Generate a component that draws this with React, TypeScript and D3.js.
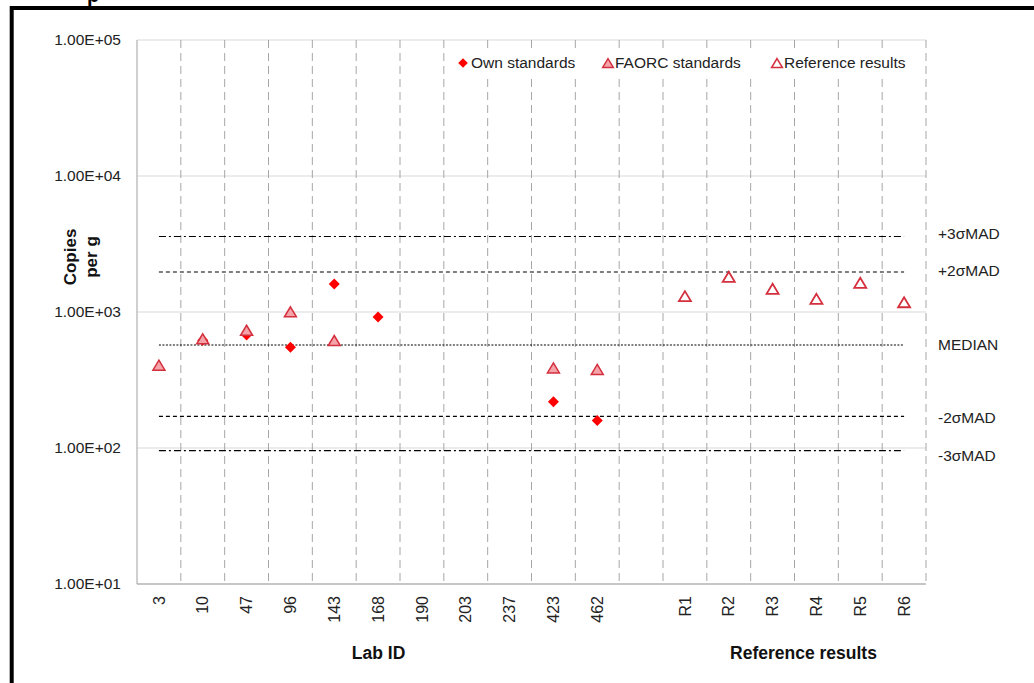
import React from "react";
import * as d3 from "d3";

// Category axis: laboratories, a spacer, then reference laboratories
const labIds = ["3", "10", "47", "96", "143", "168", "190", "203", "237", "423", "462"];
const refIds = ["R1", "R2", "R3", "R4", "R5", "R6"];
const spacer = "__gap__";
const categories = [...labIds, spacer, ...refIds];

// Results (copies per g)
const ownStandards: [string, number][] = [
  ["10", 620], ["47", 678], ["96", 550], ["143", 1607], ["168", 918], ["423", 219], ["462", 159],
];
const faorcStandards: [string, number][] = [
  ["3", 403], ["10", 630], ["47", 728], ["96", 995], ["143", 612], ["423", 385], ["462", 375],
];
const referenceResults: [string, number][] = [
  ["R1", 1297], ["R2", 1799], ["R3", 1469], ["R4", 1239], ["R5", 1626], ["R6", 1170],
];

// Consensus limits
const limitLabels = ["+3σMAD", "+2σMAD", "MEDIAN", "-2σMAD", "-3σMAD"];
const limitValues = [3590, 1968, 572, 171, 95.5];

const yTickValues = [10, 100, 1000, 10000, 100000];

const FONT = "Arial, 'Liberation Sans', sans-serif";
const limitDash = ["7,3,2,3", "4,3", "2,1.5", "4,3", "7,3,2,3"];
const limitLabelShift = [-3, -1, 0, 1, 5];

const fmtSci = (v: number) => {
  const e = Math.floor(Math.log10(v));
  const m = v / Math.pow(10, e);
  const sign = e >= 0 ? "+" : "-";
  return `${m.toFixed(2)}E${sign}${String(Math.abs(e)).padStart(2, "0")}`;
};

const triPath = (cx: number, cy: number, s = 1) =>
  `M${cx},${cy - 5.5 * s}L${cx + 6 * s},${cy + 4.5 * s}L${cx - 6 * s},${cy + 4.5 * s}Z`;
const diamondPath = (cx: number, cy: number, r = 5.5) =>
  `M${cx},${cy - r}L${cx + r},${cy}L${cx},${cy + r}L${cx - r},${cy}Z`;

export default function App() {
  const W = 1034;
  const H = 683;
  const left = 137;
  const right = 926;
  const top = 40;
  const bottom = 584;

  const x = d3.scaleBand<string>().domain(categories).range([left, right]).padding(0);
  const y = d3.scaleLog().domain([10, 100000]).range([bottom, top]);
  const cx = (c: string) => (x(c) as number) + x.bandwidth() / 2;

  const boundaries = d3.range(1, categories.length + 1).map((i) => left + i * x.bandwidth());
  const firstC = cx(categories[0]);
  const lastC = cx(categories[categories.length - 1]);

  return (
    <svg
      width={W}
      height={H}
      style={{ position: "absolute", left: 0, top: 0, background: "#fff" }}
      fontFamily={FONT}
    >
      <rect x={0} y={0} width={W} height={H} fill="#fff" />
      {/* heading above frame */}
      <text x={87} y={1.5} fontSize={20} fontWeight="bold" fill="#000">p</text>
      {/* outer frame */}
      <rect x={11.7} y={8} width={1200} height={900} fill="none" stroke="#000" strokeWidth={4} />

      {/* horizontal gridlines */}
      {yTickValues.map((v) => (
        <line key={"h" + v} x1={left} x2={right} y1={y(v)} y2={y(v)} stroke="#d9d9d9" strokeWidth={1} />
      ))}
      {/* vertical dashed category separators */}
      {boundaries.map((bx, i) => (
        <line key={"v" + i} x1={bx} x2={bx} y1={top} y2={bottom} stroke="#a6a6a6" strokeWidth={1} strokeDasharray="8,5" />
      ))}
      {/* axes */}
      <line x1={left} x2={left} y1={top} y2={bottom} stroke="#a0a0a0" strokeWidth={1} />
      <line x1={left} x2={right} y1={bottom} y2={bottom} stroke="#a0a0a0" strokeWidth={1} />

      {/* y tick labels */}
      {yTickValues.map((v) => (
        <text key={"yt" + v} x={121} y={y(v)} dy="0.35em" textAnchor="end" fontSize={15.5} fill="#222">
          {fmtSci(v)}
        </text>
      ))}

      {/* y title */}
      <text transform={`translate(76,257) rotate(-90)`} textAnchor="middle" fontSize={17} fontWeight="bold" fill="#111">
        Copies
      </text>
      <text transform={`translate(97,257) rotate(-90)`} textAnchor="middle" fontSize={17} fontWeight="bold" fill="#111">
        per g
      </text>

      {/* x tick labels */}
      {categories.filter((c) => c !== spacer).map((c) => (
        <text
          key={"xt" + c}
          transform={`translate(${cx(c)},596) rotate(-90)`}
          textAnchor="end"
          dy="0.35em"
          fontSize={16}
          fill="#222"
        >
          {c}
        </text>
      ))}

      {/* group titles */}
      <text x={(cx(labIds[0]) + cx(labIds[labIds.length - 1])) / 2 + 0.5} y={659} textAnchor="middle" fontSize={17.5} fontWeight="bold" fill="#111">
        Lab ID
      </text>
      <text x={(cx(refIds[0]) + cx(refIds[refIds.length - 1])) / 2 + 9} y={659} textAnchor="middle" fontSize={17.5} fontWeight="bold" fill="#111">
        Reference results
      </text>

      {/* consensus lines */}
      {limitValues.map((v, i) => (
        <g key={"lim" + i}>
          <line x1={firstC} x2={lastC} y1={y(v)} y2={y(v)} stroke="#000" strokeWidth={1.2} strokeDasharray={limitDash[i]} />
          <text x={938} y={y(v) + limitLabelShift[i]} dy="0.35em" fontSize={15.5} fill="#222">
            {limitLabels[i]}
          </text>
        </g>
      ))}

      {/* own standards */}
      {ownStandards.map(([c, v]) => (
        <path key={"o" + c} d={diamondPath(cx(c), y(v))} fill="#ff0000" />
      ))}
      {/* FAORC standards */}
      {faorcStandards.map(([c, v]) => (
        <path key={"f" + c} d={triPath(cx(c), y(v))} fill="#f4a3a8" stroke="#d42f3d" strokeWidth={1.5} strokeLinejoin="miter" />
      ))}
      {/* reference results */}
      {referenceResults.map(([c, v]) => (
        <path key={"r" + c} d={triPath(cx(c), y(v))} fill="#fff" stroke="#d42f3d" strokeWidth={1.8} />
      ))}

      {/* legend */}
      <rect x={452} y={48} width={466} height={26} fill="#fff" />
      <path d={diamondPath(463, 63, 4.8)} fill="#ff0000" />
      <text x={471} y={63} dy="0.35em" fontSize={15.5} fill="#222">Own standards</text>
      <path d={triPath(608, 63.5, 0.9)} fill="#f4a3a8" stroke="#d42f3d" strokeWidth={1.4} />
      <text x={615} y={63} dy="0.35em" fontSize={15.5} fill="#222">FAORC standards</text>
      <path d={triPath(777, 63.5, 0.9)} fill="#fff" stroke="#d42f3d" strokeWidth={1.5} />
      <text x={784} y={63} dy="0.35em" fontSize={15.5} fill="#222">Reference results</text>
    </svg>
  );
}
